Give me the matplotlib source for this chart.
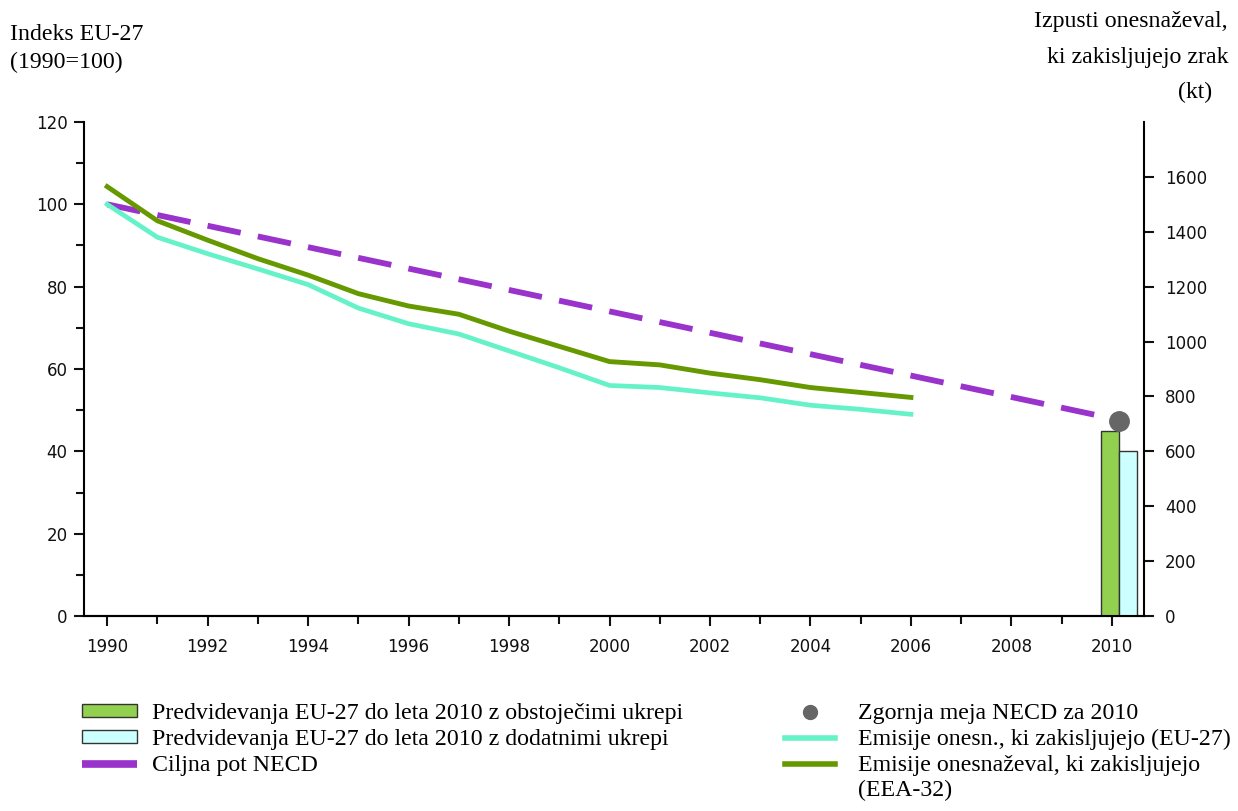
import matplotlib
matplotlib.use("Agg")
import matplotlib.pyplot as plt
from matplotlib.lines import Line2D
from matplotlib.patches import Patch
from matplotlib.ticker import MultipleLocator

# indeks EU-27 (1990=100)
years = list(range(1990, 2007))
eea32 = [104.3, 96.0, 91.3, 86.8, 82.8, 78.3, 75.3, 73.3, 69.2, 65.5,
         61.8, 61.0, 59.0, 57.4, 55.5, 54.3, 53.1]
eu27 = [100.0, 92.0, 88.0, 84.3, 80.5, 74.8, 71.0, 68.5, 64.4, 60.3,
        56.0, 55.5, 54.2, 53.0, 51.2, 50.2, 49.0]

# ciljna pot NECD
necd_years = [1990, 2010]
necd_path = [100, 48]

# kt, desna os
proj_year = 2010
proj_existing = 675
proj_additional = 600
necd_ceiling = 712

c_necd = "#9933cc"
c_eea = "#669900"
c_eu = "#66f2c8"
c_bar1 = "#92d050"
c_bar2 = "#ccffff"

serif = "Liberation Serif"
fs_text = 17.2

fig = plt.figure(figsize=(12.38, 8.11), dpi=100)
ax = fig.add_axes([0.0679, 0.2404, 0.8562, 0.6092])
ax2 = ax.twinx()

ax.plot(necd_years, necd_path, color=c_necd, lw=4.2, dashes=(5.8, 3.0),
        dash_capstyle="butt", zorder=3)
ax.plot(years, eu27, color=c_eu, lw=3.4, zorder=4)
ax.plot(years, eea32, color=c_eea, lw=3.5, zorder=5)

ax2.bar(proj_year - 0.22, proj_existing, width=0.36, align="edge",
        color=c_bar1, edgecolor="#333333", linewidth=1.0)
ax2.bar(proj_year + 0.14, proj_additional, width=0.35, align="edge",
        color=c_bar2, edgecolor="#333333", linewidth=1.0)
ax2.plot([proj_year + 0.14], [necd_ceiling], "o", color="#666666",
         markersize=14, zorder=6)

ax.set_xlim(1989.54, 2010.64)
ax.set_ylim(0, 120)
ax2.set_ylim(0, 1800)

ax.xaxis.set_major_locator(MultipleLocator(2))
ax.xaxis.set_minor_locator(MultipleLocator(1))
ax.yaxis.set_major_locator(MultipleLocator(20))
ax.yaxis.set_minor_locator(MultipleLocator(10))
ax2.set_yticks(range(0, 1601, 200))

for a in (ax, ax2):
    a.spines["top"].set_visible(False)
    for s in a.spines.values():
        s.set_linewidth(1.5)
    a.tick_params(which="both", direction="out", width=1.5, labelsize=12,
                  colors="#111111")
    a.tick_params(which="major", length=7)
    a.tick_params(which="minor", length=6)
ax.spines["right"].set_visible(False)
ax2.spines["left"].set_visible(False)
ax.tick_params(axis="y", pad=5)
ax.tick_params(axis="x", pad=9)
ax2.tick_params(axis="y", pad=8)

# naslovi osi
fig.text(0.008, 1 - 35 / 811, "Indeks EU-27", family=serif, fontsize=fs_text,
         va="center", ha="left")
fig.text(0.008, 1 - 62 / 811, "(1990=100)", family=serif, fontsize=fs_text,
         va="center", ha="left")
fig.text(0.992, 1 - 22 / 811, "Izpusti onesnaževal,", family=serif,
         fontsize=fs_text, va="center", ha="right")
fig.text(0.992, 1 - 57 / 811, "ki zakisljujejo zrak", family=serif,
         fontsize=fs_text, va="center", ha="right")
fig.text(0.979, 1 - 92 / 811, "(kt)", family=serif, fontsize=fs_text,
         va="center", ha="right")

h_left = [
    Patch(facecolor=c_bar1, edgecolor="#333333", linewidth=1.0),
    Patch(facecolor=c_bar2, edgecolor="#333333", linewidth=1.0),
    Line2D([], [], color=c_necd, lw=5.5, solid_capstyle="butt"),
]
l_left = [
    "Predvidevanja EU-27 do leta 2010 z obstoječimi ukrepi",
    "Predvidevanja EU-27 do leta 2010 z dodatnimi ukrepi",
    "Ciljna pot NECD",
]
fig.legend(h_left, l_left, loc="upper left",
           bbox_to_anchor=(82 / 1238, 1 - 703 / 811),
           bbox_transform=fig.transFigure, frameon=False,
           prop={"family": serif, "size": fs_text}, handlelength=2.29,
           handleheight=0.45, handletextpad=0.62, labelspacing=0.21,
           borderpad=0, borderaxespad=0)

h_right = [
    Line2D([], [], color="#666666", marker="o", markersize=10, lw=0),
    Line2D([], [], color=c_eu, lw=4),
    Line2D([], [], color=c_eea, lw=4),
]
l_right = [
    "Zgornja meja NECD za 2010",
    "Emisije onesn., ki zakisljujejo (EU-27)",
    "Emisije onesnaževal, ki zakisljujejo",
]
fig.legend(h_right, l_right, loc="upper left",
           bbox_to_anchor=(785 / 1238, 1 - 703 / 811),
           bbox_transform=fig.transFigure, frameon=False,
           prop={"family": serif, "size": fs_text}, handlelength=2.08,
           handleheight=0.45, handletextpad=0.96, labelspacing=0.21,
           borderpad=0, borderaxespad=0)
fig.text(858 / 1238, 1 - 790 / 811, "(EEA-32)", family=serif,
         fontsize=fs_text, va="center", ha="left")

fig.savefig("out.png", dpi=100)
